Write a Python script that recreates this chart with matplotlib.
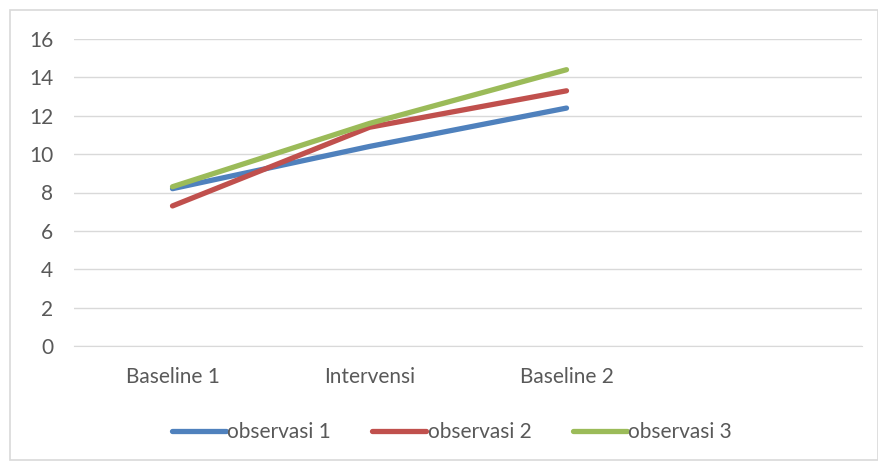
import numpy as np
import matplotlib.pyplot as plt
from matplotlib.patches import Rectangle

plt.rcParams['font.family'] = ['Lato', 'DejaVu Sans']

categories = ['Baseline 1', 'Intervensi', 'Baseline 2', '']
obs1 = [8.2, 10.4, 12.4]
obs2 = [7.3, 11.4, 13.3]
obs3 = [8.3, 11.6, 14.4]
series = {'observasi 1': obs1, 'observasi 2': obs2, 'observasi 3': obs3}
colors = ['#4F81BD', '#C0504D', '#9BBB59']

fig = plt.figure(figsize=(8.79, 4.62), dpi=100)
ax = fig.add_axes([74/879, 116/462, 788/879, 307/462])

# chart border like excel
fig.patches.append(Rectangle((10/879, 2/462), 868/879, 450/462, transform=fig.transFigure,
                             fill=False, edgecolor='#d9d9d9', linewidth=1.2))

x = np.arange(len(categories))
for (name, vals), c in zip(series.items(), colors):
    ax.plot(x[:len(vals)], vals, color=c, linewidth=3.8, solid_capstyle='round', label=name)

ax.set_xlim(-0.5, len(categories) - 0.5)
ax.set_ylim(0, 16)
ax.set_yticks(np.arange(0, 17, 2))
ax.set_xticks(x)
ax.set_xticklabels(categories)
ax.grid(axis='y', color='#d9d9d9', linewidth=1)
ax.set_axisbelow(True)
for s in ['top', 'right', 'left']:
    ax.spines[s].set_visible(False)
ax.spines['bottom'].set_color('#d9d9d9')
ax.tick_params(length=0, labelsize=15, colors='#595959')
ax.tick_params(axis='y', pad=15)
ax.tick_params(axis='x', pad=15)

leg = fig.legend(loc='center', bbox_to_anchor=(0.514, 30/462), ncol=3, frameon=False,
                 fontsize=15, handlelength=2.6, handletextpad=0.05, columnspacing=2.0)
for t in leg.get_texts():
    t.set_color('#595959')
for h in leg.get_lines():
    h.set_linewidth(3.8)
    h.set_solid_capstyle('round')

fig.savefig('out.png', dpi=100)
